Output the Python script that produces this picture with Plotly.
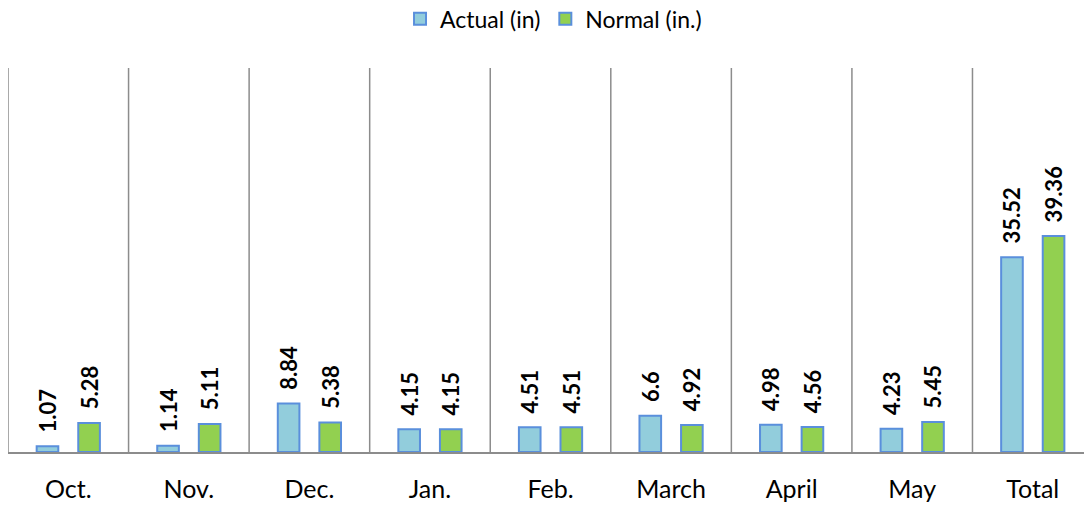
import plotly.graph_objects as go

categories = ["Oct.", "Nov.", "Dec.", "Jan.", "Feb.", "March", "April", "May", "Total"]
actual = [1.07, 1.14, 8.84, 4.15, 4.51, 6.6, 4.98, 4.23, 35.52]
normal = [5.28, 5.11, 5.38, 4.15, 4.51, 4.92, 4.56, 5.45, 39.36]
actual_labels = ["1.07", "1.14", "8.84", "4.15", "4.51", "6.6", "4.98", "4.23", "35.52"]
normal_labels = ["5.28", "5.11", "5.38", "4.15", "4.51", "4.92", "4.56", "5.45", "39.36"]

BORDER = "#5A8FDC"
label_font = dict(family="Lato", size=22, color="#000000", weight="bold")
PAD = "\u00a0\u00a0"

fig = go.Figure()
fig.add_trace(go.Bar(
    name="Actual (in)", x=categories, y=actual, text=actual_labels,
    texttemplate=PAD + "<b>%{text}</b>", textposition="outside", textangle=-90,
    outsidetextfont=label_font, constraintext="none", cliponaxis=False,
    marker=dict(color="#92CDDC", line=dict(color=BORDER, width=2)),
))
fig.add_trace(go.Bar(
    name="Normal (in.)", x=categories, y=normal, text=normal_labels,
    texttemplate=PAD + "<b>%{text}</b>", textposition="outside", textangle=-90,
    outsidetextfont=label_font, constraintext="none", cliponaxis=False,
    marker=dict(color="#92D050", line=dict(color=BORDER, width=2)),
))

# vertical separators between categories
shapes = []
for i in range(len(categories)):
    shapes.append(dict(type="line", xref="x", yref="paper", x0=i - 0.5, x1=i - 0.5,
                       y0=0, y1=1, line=dict(color="#8C8C8C", width=1.5), layer="below"))

fig.update_layout(
    width=1084, height=506,
    margin=dict(l=8, r=0, t=68, b=54),
    paper_bgcolor="white", plot_bgcolor="white",
    barmode="group", bargap=0.31, bargroupgap=0.48,
    shapes=shapes,
    showlegend=True,
    legend=dict(orientation="h", x=0.507, xanchor="center", y=0.963, yref="container",
                yanchor="middle", font=dict(family="Lato", size=23, color="#000000"),
                itemwidth=30, traceorder="normal"),
    xaxis=dict(range=[-0.5, 8.425], showgrid=False, showline=True, linecolor="#8C8C8C",
               linewidth=2, ticks="", ticklabelstandoff=14,
               tickfont=dict(family="Lato", size=25, color="#000000"), fixedrange=True),
    yaxis=dict(range=[0, 70], showgrid=False, showticklabels=False, zeroline=False,
               showline=False, fixedrange=True),
    font=dict(family="Lato"),
)

fig.write_html("out.html", config={"displayModeBar": False},
               post_script="document.body.style.margin='0';document.body.style.overflow='hidden';")
